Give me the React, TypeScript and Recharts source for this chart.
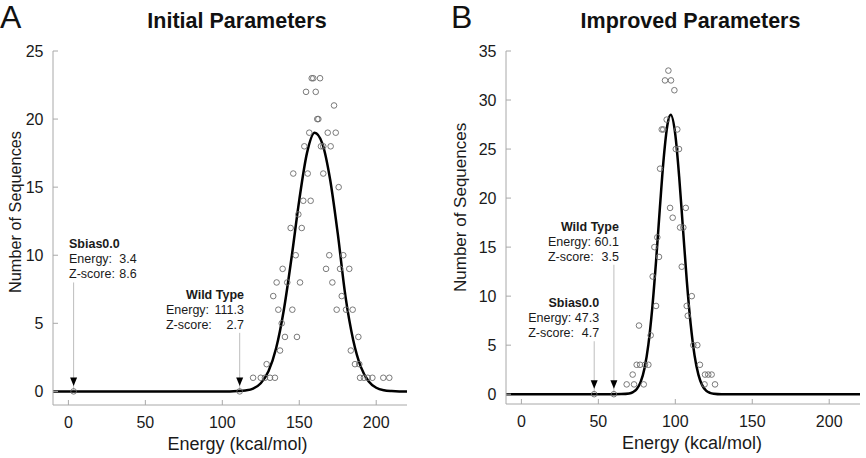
import { ComposedChart, Line, Scatter, XAxis, YAxis, ReferenceLine, ReferenceDot } from 'recharts';

const FONT = '"Liberation Sans", Arial, Helvetica, sans-serif';
const FRAME = '#a8a8a8';
const RING = '#6b6b6b';
const INK = '#1a1a1a';

const energyDomain = [-10, 220];
const energyTicks = [0, 50, 100, 150, 200];

// --- A: initial parameters ---
const countTicksA = [0, 5, 10, 15, 20, 25];

// fitted normal curve
const fitEnergyA = [-10, 0, 50, 100, 105, 110, 115, 120, 125, 130, 135, 140, 145, 150, 155, 160, 165, 170, 175, 180, 185, 190, 195, 200, 205, 210, 215, 220];
const fitCountA = [0, 0, 0, 0, 0, 0.02, 0.07, 0.21, 0.6, 1.48, 3.19, 6.0, 9.83, 14.05, 17.5, 19.0, 18.2, 15.6, 11.6, 7.0, 3.8, 1.8, 0.75, 0.27, 0.08, 0.02, 0, 0];

// designed sequences (energy, count)
const seqEnergyA = [
  120, 125, 127.7, 131, 134.2, 189.5, 192, 194.5, 197.5, 204.6, 208.5,
  128.8, 186.2, 189,
  137.5, 183.5,
  140.7, 148.5, 188.4,
  138.6,
  136.4, 145.5, 174.3, 180.4, 184.7,
  133.1, 177.6,
  135.3, 142.2, 150.5, 171.5,
  139.2, 167.4, 176.5, 182.5,
  147.7, 169.5, 178.6,
  144.4, 151.6,
  149.4,
  152.6, 157.4,
  175.6,
  146.1, 155.5, 165.6,
  153.3, 164.1, 165.6, 170.4,
  156.5, 168.5, 173.7,
  161.7, 162.4,
  172.6,
  154.4, 160.7,
  158.1, 159.1, 163.5,
];
const seqCountA = [
  1, 1, 1, 1, 1, 1, 1, 1, 1, 1, 1,
  2, 2, 2,
  3, 3,
  4, 4, 4,
  5,
  6, 6, 6, 6, 6,
  7, 7,
  8, 8, 8, 8,
  9, 9, 9, 9,
  10, 10, 10,
  12, 12,
  13,
  14, 14,
  15,
  16, 16, 16,
  18, 18, 18, 18,
  19, 19, 19,
  20, 20,
  21,
  22, 22,
  23, 23, 23,
];

const notesA = [
  { name: 'Sbias0.0', energy: 3.4, zScore: 8.6 },
  { name: 'Wild Type', energy: 111.3, zScore: 2.7 },
];

// --- B: improved parameters ---
const countTicksB = [0, 5, 10, 15, 20, 25, 30, 35];

const fitEnergyB = [-10, 0, 50, 60, 65, 70, 72.5, 75, 77.5, 80, 82.5, 85, 87.5, 90, 92.5, 95, 97, 100, 102.5, 105, 107.5, 110, 112.5, 115, 117.5, 120, 122.5, 125, 130, 150, 220];
const fitCountB = [0, 0, 0, 0, 0.01, 0.07, 0.21, 0.53, 1.25, 2.65, 5.06, 8.73, 13.57, 19.05, 24.13, 27.58, 28.5, 26.47, 22.2, 16.84, 11.51, 7.11, 3.96, 1.99, 0.9, 0.37, 0.14, 0.05, 0, 0, 0];

const seqEnergyB = [
  68.4, 73.2, 79.5, 119, 125.8,
  72.3, 119.3, 121.4, 123.6,
  74.9, 77.1, 80.3, 82.5, 116,
  111.7, 114.3,
  84.0,
  76.4,
  108.1,
  87.5, 107.4,
  110.7,
  85.3,
  104.2,
  89.4,
  86.4,
  88.3,
  103.1, 105.2,
  98.3,
  96.6, 106.8,
  90.1,
  100.3, 102.4,
  91.2, 92.2, 101.3,
  94.4,
  99.4,
  93.3, 97.2,
  95.5,
];
const seqCountB = [
  1, 1, 1, 1, 1,
  2, 2, 2, 2,
  3, 3, 3, 3, 3,
  5, 5,
  6,
  7,
  8,
  9, 9,
  10,
  12,
  13,
  14,
  15,
  16,
  17, 17,
  18,
  19, 19,
  23,
  25, 25,
  27, 27, 27,
  28,
  31,
  32, 32,
  33,
];

const notesB = [
  { name: 'Wild Type', energy: 60.1, zScore: 3.5 },
  { name: 'Sbias0.0', energy: 47.3, zScore: 4.7 },
];

// where each callout's text block sits: lift = count level of the leader top,
// left/right = px offsets of the text column from the leader line
const calloutA = [
  { lift: 8.0, left: -4.6, right: 63, nameAtEnd: false },
  { lift: 4.3, left: -73.7, right: 4.3, nameAtEnd: true },
];
const calloutB = [
  { lift: 13.2, left: -66, right: 5, nameAtEnd: true },
  { lift: 5.4, left: -66, right: 5, nameAtEnd: true },
];

type Note = { name: string; energy: number; zScore: number };
type Callout = { lift: number; left: number; right: number; nameAtEnd: boolean };

const ring = (p: any) => (
  <circle cx={p.cx} cy={p.cy} r={2.8} fill="none" stroke={RING} strokeWidth={0.9} />
);

const arrowHead = (p: any) => (
  <path d={`M${p.cx - 3.5},${p.cy - 14}L${p.cx + 3.5},${p.cy - 14}L${p.cx},${p.cy - 5.5}Z`} fill="#000" />
);

const noteText = (n: Note, c: Callout) => (p: any) => {
  const l = p.cx + c.left;
  const r = p.cx + c.right;
  return (
    <g fontFamily={FONT} fontSize={12.5} fill={INK}>
      <text x={c.nameAtEnd ? r : l} y={p.cy - 34} textAnchor={c.nameAtEnd ? 'end' : 'start'} fontWeight="bold">
        {n.name}
      </text>
      <text x={l} y={p.cy - 19}>Energy:</text>
      <text x={r} y={p.cy - 19} textAnchor="end">{n.energy.toFixed(1)}</text>
      <text x={l} y={p.cy - 4}>Z-score:</text>
      <text x={r} y={p.cy - 4} textAnchor="end">{n.zScore.toFixed(1)}</text>
    </g>
  );
};

const xTitle = (shift: number) => (p: any) => {
  const { x, y, width } = p.viewBox;
  return (
    <text x={x + width / 2 + shift} y={y + 44.5} textAnchor="middle" fontSize={18} fontFamily={FONT} fill={INK}>
      Energy (kcal/mol)
    </text>
  );
};

const yTitle = (gap: number, size: number) => (p: any) => {
  const { x, y, width, height } = p.viewBox;
  const cx = x + width - gap;
  const cy = y + height - 112;
  return (
    <text transform={`rotate(-90 ${cx} ${cy})`} x={cx} y={cy} dy="0.25em" textAnchor="start" fontSize={size} fontFamily={FONT} fill={INK}>
      Number of Sequences
    </text>
  );
};

const blank = () => <g />;
const tickFont = { fill: INK, fontSize: 16, fontFamily: FONT };

type PanelProps = {
  fitE: number[]; fitC: number[]; seqE: number[]; seqC: number[];
  notes: Note[]; callouts: Callout[];
  yMax: number; yTicks: number[];
  left: number; right: number; xHeight: number;
  xShift: number; yGap: number; ySize: number;
};

function Panel(props: PanelProps) {
  const { fitE, fitC, seqE, seqC, notes, callouts, yMax, yTicks, left, right, xHeight, xShift, yGap, ySize } = props;
  const fit = fitE.map((x, i) => ({ x, y: fitC[i] }));
  const seq = [
    ...notes.map(n => ({ x: n.energy, y: 0 })),
    ...seqE.map((x, i) => ({ x, y: seqC[i] })),
  ];
  return (
    <ComposedChart width={433} height={458} margin={{ top: 51, right, bottom: 0, left }}>
      <XAxis
        dataKey="x" type="number" domain={energyDomain} ticks={energyTicks} allowDataOverflow interval={0}
        height={xHeight} stroke={FRAME} tickSize={-5} tickMargin={17} tick={tickFont}
        label={{ content: xTitle(xShift) }}
      />
      <XAxis
        xAxisId="t" orientation="top" type="number" domain={energyDomain} ticks={energyTicks} allowDataOverflow
        interval={0} height={0} stroke={FRAME} tickSize={-5} tick={blank}
      />
      <YAxis
        dataKey="y" type="number" domain={[-1, yMax]} ticks={yTicks} allowDataOverflow interval={0}
        width={40} stroke={FRAME} tickSize={-5} tickMargin={14.5} tick={tickFont}
        label={{ content: yTitle(yGap, ySize) }}
      />
      <YAxis
        yAxisId="r" orientation="right" type="number" domain={[-1, yMax]} ticks={yTicks} allowDataOverflow
        interval={0} width={0} stroke={FRAME} axisLine={false} tickSize={-5} tick={blank}
      />
      {notes.map((n, i) => (
        <ReferenceLine
          key={`lead-${i}`}
          segment={[{ x: n.energy, y: callouts[i].lift }, { x: n.energy, y: 0 }]}
          stroke="#bdbdbd" strokeWidth={1}
        />
      ))}
      <Line data={fit} dataKey="y" type="monotone" stroke="#000" strokeWidth={2.5} dot={false} isAnimationActive={false} />
      <Scatter data={seq} dataKey="y" shape={ring} isAnimationActive={false} />
      {notes.map((n, i) => (
        <ReferenceDot key={`head-${i}`} x={n.energy} y={0} shape={arrowHead} />
      ))}
      {notes.map((n, i) => (
        <ReferenceDot key={`text-${i}`} x={n.energy} y={callouts[i].lift} shape={noteText(n, callouts[i])} />
      ))}
    </ComposedChart>
  );
}

export default function App() {
  return (
    <div style={{ position: 'absolute', left: 0, top: 0, width: 866, height: 458, background: '#fff', overflow: 'hidden' }}>
      <div style={{ position: 'absolute', left: 0, top: 0 }}>
        <Panel
          fitE={fitEnergyA} fitC={fitCountA} seqE={seqEnergyA} seqC={seqCountA}
          notes={notesA} callouts={calloutA} yMax={25} yTicks={countTicksA}
          left={13} right={26} xHeight={53} xShift={7.5} yGap={36} ySize={16.3}
        />
      </div>
      <div style={{ position: 'absolute', left: 433, top: 0 }}>
        <Panel
          fitE={fitEnergyB} fitC={fitCountB} seqE={seqEnergyB} seqC={seqCountB}
          notes={notesB} callouts={calloutB} yMax={35} yTicks={countTicksB}
          left={33} right={6} xHeight={54} xShift={9} yGap={44} ySize={17}
        />
      </div>
      <svg width={866} height={458} style={{ position: 'absolute', left: 0, top: 0, pointerEvents: 'none' }}>
        <g fontFamily={FONT} fill="#111">
          <text x={0} y={28} fontSize={32}>A</text>
          <text x={237} y={27.5} fontSize={21.5} fontWeight="bold" textAnchor="middle">Initial Parameters</text>
          <text x={451} y={28} fontSize={32}>B</text>
          <text x={690.5} y={27.5} fontSize={21.5} fontWeight="bold" textAnchor="middle">Improved Parameters</text>
        </g>
      </svg>
    </div>
  );
}
